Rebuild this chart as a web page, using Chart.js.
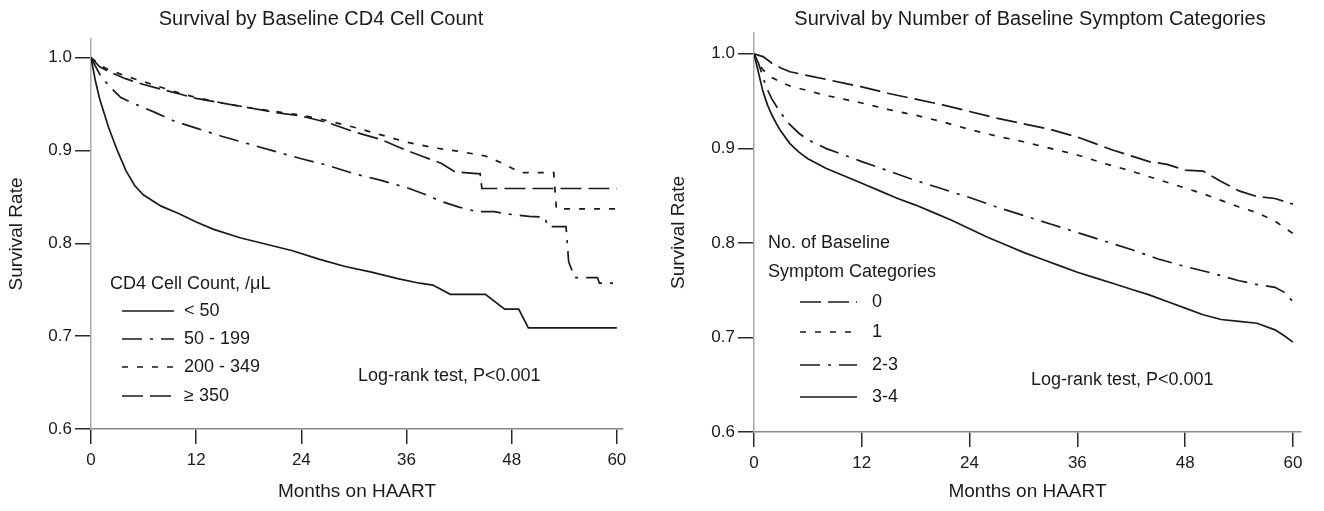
<!DOCTYPE html>
<html>
<head>
<meta charset="utf-8">
<script src="https://cdn.jsdelivr.net/npm/chart.js@4.4.0/dist/chart.umd.min.js"></script>
<style>
  body { margin: 0; background: #fff; }
  .panel { position: absolute; top: 0; width: 662px; height: 511px; }
  #left { left: 0; }
  #right { left: 662px; }
</style>
</head>
<body>
<div class="panel" id="left"><canvas id="cd4-chart"></canvas></div>
<div class="panel" id="right"><canvas id="sym-chart"></canvas></div>
<script>
// Data
const monthTicks = [0, 12, 24, 36, 48, 60];
const rateTicks = [0.6, 0.7, 0.8, 0.9, 1.0];

// Left: baseline CD4 count
const cd4Labels = ['< 50', '50 - 199', '200 - 349', '\u2265 350'];
const lt50Months = [0, 0.5, 1, 1.5, 2, 3, 4, 5, 6, 8, 10, 12, 14, 17, 20, 23, 26, 29, 32, 35, 37.5, 39, 41, 45, 47.2, 48.8, 49.9, 60];
const lt50Surv   = [1.0, 0.975, 0.955, 0.94, 0.925, 0.9, 0.878, 0.862, 0.852, 0.84, 0.832, 0.823, 0.815, 0.806, 0.799, 0.792, 0.783, 0.775, 0.769, 0.762, 0.757, 0.755, 0.745, 0.745, 0.729, 0.729, 0.709, 0.709];
const m50Months = [0, 1, 2, 3.4, 5, 7.3, 9.4, 12, 15, 18, 21, 24, 27, 30, 33, 36, 38, 40, 42, 44, 46, 48, 50, 51.8, 52.1, 54.2, 54.5, 55.2, 57.8, 58, 60];
const m50Surv   = [1.0, 0.982, 0.97, 0.957, 0.95, 0.941, 0.932, 0.924, 0.915, 0.907, 0.899, 0.891, 0.884, 0.875, 0.868, 0.86, 0.853, 0.845, 0.839, 0.834, 0.834, 0.831, 0.829, 0.828, 0.818, 0.818, 0.78, 0.763, 0.763, 0.757, 0.757];
const m200Months = [0, 1, 2, 4, 6, 8, 10, 12, 15, 18, 21, 24, 27, 30, 33, 36, 39, 42, 45, 47, 49, 52.8, 53.1, 60];
const m200Surv   = [1.0, 0.992, 0.987, 0.98, 0.974, 0.968, 0.962, 0.957, 0.951, 0.946, 0.942, 0.938, 0.932, 0.925, 0.917, 0.909, 0.903, 0.899, 0.894, 0.886, 0.876, 0.876, 0.837, 0.837];
const m350Months = [0, 1, 2, 4, 6, 8, 10, 12, 15, 18, 21, 24, 27, 30, 33, 36, 38, 40, 41.5, 44, 44.4, 44.6, 60];
const m350Surv   = [1.0, 0.99, 0.985, 0.977, 0.971, 0.966, 0.961, 0.956, 0.951, 0.946, 0.941, 0.937, 0.93, 0.92, 0.912, 0.9, 0.893, 0.886, 0.877, 0.875, 0.875, 0.859, 0.859];

// Right: number of baseline symptom categories
const symLabels = ['0', '1', '2-3', '3-4'];
const s0Months = [0, 1, 2, 3, 4, 6, 8, 10, 12, 15, 18, 21, 24, 27, 30, 33, 36, 38, 40, 42, 44, 46, 48, 50, 52, 54, 56, 58, 60];
const s0Surv   = [1.0, 0.997, 0.99, 0.985, 0.981, 0.977, 0.973, 0.969, 0.965, 0.958, 0.952, 0.946, 0.939, 0.932, 0.926, 0.92, 0.912, 0.905, 0.898, 0.892, 0.886, 0.883, 0.877, 0.876, 0.865, 0.855, 0.849, 0.847, 0.841];
const s1Months = [0, 0.5, 1, 2, 3, 4, 6, 8, 10, 12, 15, 18, 21, 24, 27, 30, 33, 36, 39, 42, 45, 48, 50, 52, 54, 56, 58, 60];
const s1Surv   = [1.0, 0.99, 0.983, 0.975, 0.97, 0.966, 0.961, 0.956, 0.952, 0.948, 0.941, 0.935, 0.928, 0.92, 0.913, 0.907, 0.9, 0.893, 0.884, 0.876, 0.867, 0.858, 0.852, 0.845, 0.838, 0.832, 0.823, 0.81];
const s23Months = [0, 0.5, 1, 1.5, 2, 3, 4, 5, 6, 8, 10, 12, 15, 18, 21, 24, 27, 30, 33, 36, 39, 42, 45, 48, 51, 54, 56, 58, 59, 60];
const s23Surv   = [1.0, 0.99, 0.975, 0.962, 0.952, 0.937, 0.925, 0.916, 0.909, 0.9, 0.893, 0.886, 0.876, 0.866, 0.857, 0.848, 0.838, 0.829, 0.82, 0.811, 0.802, 0.793, 0.783, 0.775, 0.768, 0.76, 0.756, 0.753, 0.748, 0.738];
const s34Months = [0, 0.5, 1, 1.5, 2, 2.5, 3, 4, 5, 6, 7, 8, 10, 12, 14, 16, 18, 20, 22, 24, 26, 28, 30, 32, 34, 36, 38, 40, 42, 44, 46, 48, 50, 52, 54, 56, 58, 59, 60];
const s34Surv   = [1.0, 0.98, 0.96, 0.946, 0.935, 0.926, 0.918, 0.905, 0.896, 0.889, 0.884, 0.879, 0.871, 0.863, 0.855, 0.847, 0.84, 0.832, 0.824, 0.815, 0.806, 0.798, 0.79, 0.783, 0.776, 0.769, 0.763, 0.757, 0.751, 0.745, 0.738, 0.731, 0.724, 0.719, 0.717, 0.715, 0.708, 0.702, 0.695];

// Styles
const INK = '#1a1a1a';
const FONT = '"Liberation Sans", Arial, sans-serif';
const SOLID = [], DASH_DOT = [20, 8, 3, 8], SHORT_DASH = [6, 9], LONG_DASH = [21, 7];

// Helpers
function pts(xs, ys){ return xs.map((x, i) => ({x, y: ys[i]})); }
function series(label, xs, ys, dash){
  return { label, data: pts(xs, ys), borderColor: INK, borderWidth: 1.7, borderDash: dash, pointRadius: 0, tension: 0, fill: false };
}

// draws titles, notes and the in-plot legend
const kmText = {
  id: 'kmText',
  afterDraw(chart, args, opts){
    const ctx = chart.ctx;
    ctx.save();
    ctx.fillStyle = INK;
    ctx.textBaseline = 'middle';
    opts.texts.forEach(t => {
      ctx.font = t.font;
      ctx.textAlign = t.align || 'left';
      ctx.fillText(t.text, t.x, t.y);
    });
    const L = opts.legend;
    ctx.font = L.font;
    ctx.textAlign = 'left';
    chart.data.datasets.forEach((ds, i) => {
      const y = L.ys[i];
      ctx.beginPath();
      ctx.setLineDash(ds.borderDash);
      ctx.lineWidth = ds.borderWidth;
      ctx.strokeStyle = ds.borderColor;
      ctx.moveTo(L.x, y); ctx.lineTo(L.x + L.len, y);
      ctx.stroke();
      ctx.setLineDash([]);
      ctx.fillText(ds.label, L.x + L.len + L.gap, y);
    });
    ctx.restore();
  }
};

function kmOptions(o){
  return {
    responsive: true, maintainAspectRatio: false, animation: false,
    layout: { padding: { top: o.top, right: o.right, left: 0, bottom: 0 } },
    plugins: { legend: { display: false }, tooltip: { enabled: false }, kmText: o.text },
    scales: {
      x: {
        type: 'linear', min: 0, max: o.xMax,
        afterBuildTicks: s => { s.ticks = monthTicks.map(v => ({ value: v })); },
        afterFit: s => { s.height = o.xH; },
        border: { color: '#8a8a8a', width: 1.5 },
        grid: { drawOnChartArea: false, color: '#2a2a2a', lineWidth: 1.5, tickLength: 15 },
        ticks: { color: INK, font: { family: FONT, size: 17 }, padding: 6, maxRotation: 0 },
        title: { display: true, text: 'Months on HAART', color: INK, font: { family: FONT, size: 19 }, padding: { top: 0, bottom: 8 } }
      },
      y: {
        type: 'linear', min: 0.6, max: o.yMax,
        afterBuildTicks: s => { s.ticks = rateTicks.map(v => ({ value: v })); },
        afterFit: s => { s.width = o.yW; },
        border: { color: '#a8a8a8', width: 1.5 },
        grid: { drawOnChartArea: false, color: '#2a2a2a', lineWidth: 1.5, tickLength: 16 },
        ticks: { color: INK, font: { family: FONT, size: 17 }, padding: 3, callback: v => v.toFixed(1) },
        title: { display: true, text: 'Survival Rate', color: INK, font: { family: FONT, size: 19 }, padding: { top: 5, bottom: 0 } }
      }
    }
  };
}

// LEFT: CD4
new Chart(document.getElementById('cd4-chart'), {
  type: 'line',
  data: { datasets: [
    series(cd4Labels[0], lt50Months, lt50Surv, SOLID),
    series(cd4Labels[1], m50Months, m50Surv, DASH_DOT),
    series(cd4Labels[2], m200Months, m200Surv, SHORT_DASH),
    series(cd4Labels[3], m350Months, m350Surv, LONG_DASH)
  ]},
  options: kmOptions({
    top: 39, right: 39, xMax: 60.7, yMax: 1.02, xH: 82, yW: 91,
    text: {
      texts: [
        { text: 'Survival by Baseline CD4 Cell Count', x: 321, y: 19, align: 'center', font: '20px ' + FONT },
        { text: 'CD4 Cell Count, /\u03bcL', x: 110, y: 284, font: '18px ' + FONT },
        { text: 'Log-rank test, P<0.001', x: 358, y: 376, font: '18px ' + FONT }
      ],
      legend: { ys: [311, 339, 367, 396], x: 122, len: 52, gap: 10, font: '18px ' + FONT }
    }
  }),
  plugins: [kmText]
});

// RIGHT: symptom categories
new Chart(document.getElementById('sym-chart'), {
  type: 'line',
  data: { datasets: [
    series(symLabels[0], s0Months, s0Surv, LONG_DASH),
    series(symLabels[1], s1Months, s1Surv, SHORT_DASH),
    series(symLabels[2], s23Months, s23Surv, DASH_DOT),
    series(symLabels[3], s34Months, s34Surv, SOLID)
  ]},
  options: kmOptions({
    top: 33, right: 23, xMax: 60.9, yMax: 1.022, xH: 79, yW: 92,
    text: {
      texts: [
        { text: 'Survival by Number of Baseline Symptom Categories', x: 368, y: 19, align: 'center', font: '20px ' + FONT },
        { text: 'No. of Baseline', x: 106, y: 243, font: '18px ' + FONT },
        { text: 'Symptom Categories', x: 106, y: 272, font: '18px ' + FONT },
        { text: 'Log-rank test, P<0.001', x: 369, y: 380, font: '18px ' + FONT }
      ],
      legend: { ys: [302, 332, 365, 397], x: 138, len: 57, gap: 15, font: '18px ' + FONT }
    }
  }),
  plugins: [kmText]
});
</script>
</body>
</html>
